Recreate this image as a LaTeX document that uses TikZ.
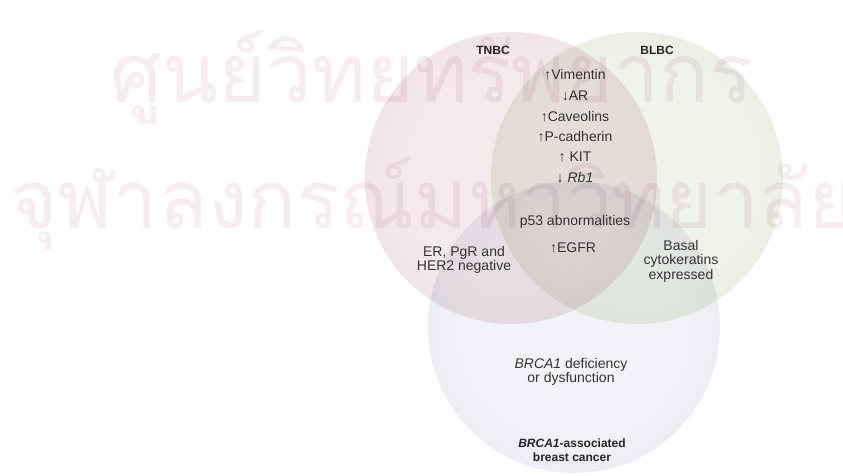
\documentclass[tikz,border=0pt]{standalone}
\usepackage{fontspec}
\setmainfont{Liberation Sans}
\newfontfamily\thaifont[Script=Thai]{Loma}
\definecolor{tnbcIn}{HTML}{F4EAEC}
\definecolor{tnbcOut}{HTML}{E6D0D5}
\definecolor{blbcIn}{HTML}{F0F3EA}
\definecolor{blbcOut}{HTML}{DAE3CE}
\definecolor{brcaIn}{HTML}{F2F3F7}
\definecolor{brcaOut}{HTML}{DADDE9}
\definecolor{wmc}{HTML}{F6ECF2}
\definecolor{txtc}{HTML}{333333}
\definecolor{hdrc}{HTML}{262626}
\pgfdeclareradialshading{tnbcsh}{\pgfpoint{0bp}{0bp}}{color(0bp)=(tnbcIn); color(18bp)=(tnbcIn); color(50bp)=(tnbcOut)}
\pgfdeclareradialshading{blbcsh}{\pgfpoint{0bp}{0bp}}{color(0bp)=(blbcIn); color(18bp)=(blbcIn); color(50bp)=(blbcOut)}
\pgfdeclareradialshading{brcash}{\pgfpoint{0bp}{0bp}}{color(0bp)=(brcaIn); color(18bp)=(brcaIn); color(50bp)=(brcaOut)}
\begin{document}
\begin{tikzpicture}[x=1pt,y=-1pt,
  lbl/.style={inner sep=0pt, text=txtc, font=\fontsize{14}{14.5}\selectfont, align=center},
  hdr/.style={inner sep=0pt, text=hdrc, font=\fontsize{12}{14}\selectfont\bfseries, align=center},
  wm/.style={inner sep=0pt, anchor=base west, text=wmc}]
\useasboundingbox (0,0) rectangle (843,475);
\fill[white] (0,0) rectangle (843,475);
% watermark
\begin{scope}
\clip (0,0) rectangle (843,475);
\node[wm] (wm1) at (110,102) {\resizebox{643pt}{!}{\thaifont ศูนย์วิทยทรัพยากร}};
\node[wm] (wm2) at (10,228) {\resizebox{845pt}{!}{\thaifont จุฬาลงกรณ์มหาวิทยาลัย}};
\end{scope}
% circles
\coordinate (tnbc) at (511,178);
\coordinate (blbc) at (637,178);
\coordinate (brca) at (574,327);
\begin{scope}[blend mode=multiply]
\shade[shading=tnbcsh] (tnbc) circle (146);
\shade[shading=blbcsh] (blbc) circle (146);
\shade[shading=brcash] (brca) circle (146);
\end{scope}
% labels
\node[hdr] (tnbcL) at (493,50) {TNBC};
\node[hdr] (blbcL) at (657,50) {BLBC};
\node[lbl] (vim) at (575,75) {↑Vimentin};
\node[lbl] (ar) at (575,96) {↓AR};
\node[lbl] (cav) at (575,117) {↑Caveolins};
\node[lbl] (pcad) at (575,137) {↑P-cadherin};
\node[lbl] (kit) at (575,157) {↑ KIT};
\node[lbl] (rb) at (575,178) {↓ \textit{Rb1}};
\node[lbl] (p53) at (575,222) {p53 abnormalities};
\node[lbl] (egfr) at (573,248) {↑EGFR};
\node[lbl] (er) at (464,260) {ER, PgR and\\HER2 negative};
\node[lbl] (basal) at (681,261) {Basal\\cytokeratins\\expressed};
\node[lbl] (def) at (571,372) {\textit{BRCA1} deficiency\\or dysfunction};
\node[hdr] (assoc) at (572,450) {\textit{BRCA1}-associated\\breast cancer};
\end{tikzpicture}
\end{document}
